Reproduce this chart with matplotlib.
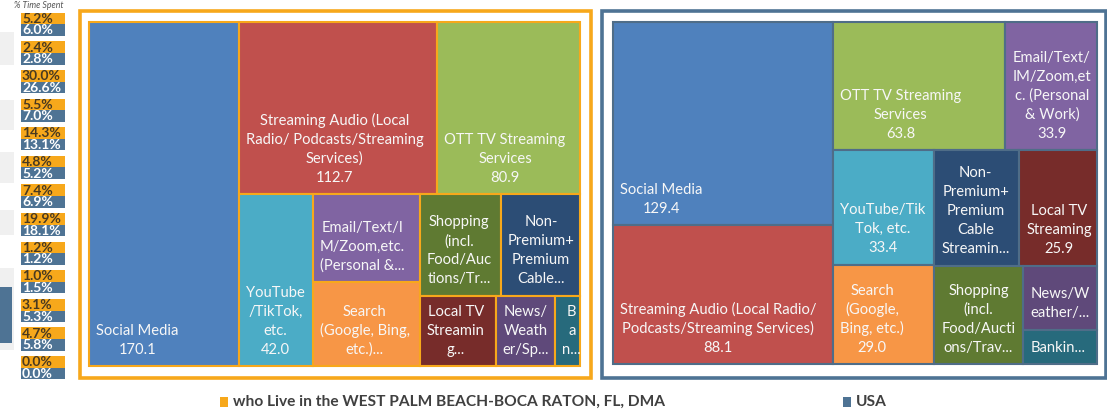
import re
import matplotlib
matplotlib.use('Agg')
import matplotlib.pyplot as plt
from matplotlib.patches import Rectangle
from matplotlib.font_manager import FontProperties

# activities (same order in both treemaps, colours follow the category)
categories = [
    'Social Media',
    'Streaming Audio (Local Radio/ Podcasts/Streaming Services)',
    'OTT TV Streaming Services',
    'YouTube/TikTok, etc.',
    'Email/Text/IM/Zoom,etc. (Personal & Work)',
    'Search (Google, Bing, etc.)',
    'Shopping (incl. Food/Auctions/Travel)',
    'Non-Premium+Premium Cable Streaming Services',
    'Local TV Streaming',
    'News/Weather/Sports',
    'Banking/Finance',
]
dma_minutes = [170.1, 112.7, 80.9, 42.0, 31.2, 29.5, 27.2, 26.6, 17.6, 13.8, 5.7]
usa_minutes = [129.4, 88.1, 63.8, 33.4, 33.9, 29.0, 25.3, 28.2, 25.9, 13.6, 7.3]
cat_colors = ['#4F81BD', '#C0504D', '#9BBB59', '#4BACC6', '#8064A2', '#F79646',
              '#5F7A32', '#2C4D75', '#772C2A', '#5F497A', '#276A7C']

# "% Time Spent" side column
dma_pct = [5.2, 2.4, 30.0, 5.5, 14.3, 4.8, 7.4, 19.9, 1.2, 1.0, 3.1, 4.7, 0.0]
usa_pct = [6.0, 2.8, 26.6, 7.0, 13.1, 5.2, 6.9, 18.1, 1.2, 1.5, 5.3, 5.8, 0.0]

legend_labels = ['who Live in the WEST PALM BEACH-BOCA RATON, FL, DMA', 'USA']

ORANGE = '#F7A81B'
STEEL = '#4E7394'
EDGE_USA = '#4F6D88'

fig = plt.figure(figsize=(11.07, 4.11), dpi=100)
ax = fig.add_axes([0, 0, 1, 1])
ax.set_xlim(0, 1107)
ax.set_ylim(411, 0)
ax.axis('off')
renderer = fig.canvas.get_renderer()

label_font = FontProperties(family='Lato', size=10.6)
LINE_H = 19.0
MARGIN = 7.0
PAD = 6.0


def text_w(s, prop=label_font):
    w, _, _ = renderer.get_text_width_height_descent(s, prop, ismath=False)
    return w


def worst(row, side, stretch):
    s = sum(row)
    t = s / side * stretch
    return max(max(t / (a / s * side), (a / s * side) / t) for a in row)


def squarify(values, x, y, w, h, stretch=1.24):
    # squarified layout; stretch mimics the way Excel judges the strips
    scale = w * h / sum(values)
    areas = [v * scale for v in values]
    rects = []
    i = 0
    while i < len(areas):
        side = min(w, h)
        row = [areas[i]]
        j = i + 1
        while j < len(areas) and worst(row + [areas[j]], side, stretch) <= worst(row, side, stretch):
            row.append(areas[j])
            j += 1
        thick = sum(row) / side
        if w >= h:
            yy = y
            for a in row:
                rects.append((x, yy, thick, a / thick))
                yy += a / thick
            x += thick
            w -= thick
        else:
            xx = x
            for a in row:
                rects.append((xx, y, a / thick, thick))
                xx += a / thick
            y += thick
            h -= thick
        i = j
    return rects


def wrap(name, maxw):
    tokens = [t for t in re.findall(r'[^ \-]*[ \-]?', name) if t]
    lines, cur = [], ''
    for tok in tokens:
        if text_w((cur + tok).rstrip()) <= maxw:
            cur += tok
            continue
        if cur.strip():
            lines.append(cur.rstrip())
        cur = ''
        while text_w(tok.rstrip()) > maxw and len(tok.rstrip()) > 1:
            k = 1
            while k < len(tok) and text_w(tok[:k + 1]) <= maxw:
                k += 1
            lines.append(tok[:k])
            tok = tok[k:]
        cur = tok
    if cur.strip():
        lines.append(cur.rstrip())
    return lines


def draw_label(x, y, w, h, name, value):
    maxw = w - 2 * PAD
    lines = wrap(name, maxw) + [f'{value:.1f}']
    nmax = max(1, int((h - 12.8) / LINE_H))
    if len(lines) > nmax:
        lines = lines[:nmax]
        base = lines[-1]
        while text_w(base + '...') > maxw and len(base) > 1:
            base = base[:-1]
        lines[-1] = base + '...'
    block_w = max(text_w(l) for l in lines)
    cx = x + PAD + 1 + block_w / 2
    bottom = y + h - MARGIN
    n = len(lines)
    for k, line in enumerate(lines):
        ly = bottom - (n - k - 0.5) * LINE_H
        ax.text(cx, ly, line, ha='center', va='center', color='#F7F7F7',
                fontproperties=label_font)


def draw_treemap(values, region, edge):
    order = sorted(range(len(values)), key=lambda i: -values[i])
    rects = squarify([values[i] for i in order], *region)
    for idx, (x, y, w, h) in zip(order, rects):
        ax.add_patch(Rectangle((x, y), w, h, facecolor=cat_colors[idx],
                               edgecolor=edge, linewidth=1.5))
        draw_label(x, y, w, h, categories[idx], values[idx])


# frames
ax.add_patch(Rectangle((79.5, 11.5), 511, 366, fill=False, edgecolor=ORANGE, linewidth=2.6))
ax.add_patch(Rectangle((601.5, 11.5), 504, 366, fill=False, edgecolor=STEEL, linewidth=2.6))

draw_treemap(dma_minutes, (89, 22, 491, 344), ORANGE)
draw_treemap(usa_minutes, (613, 22, 484, 342), EDGE_USA)

# cropped bits of a neighbouring panel at the far left
for (by, bh) in [(32, 33), (100, 30), (152, 31), (210, 25), (268, 82)]:
    ax.add_patch(Rectangle((0, by), 14, bh, facecolor='#F0F0F0', edgecolor='none'))
ax.add_patch(Rectangle((0, 287), 12, 56, facecolor='#4E7394', edgecolor='none'))

# % Time Spent column
ax.text(14, 5, '% Time Spent', fontsize=6.3, style='italic', color='#555555',
        va='center', ha='left', family='Lato')
pct_font = FontProperties(family='Lato', weight='bold', size=10)
for i, (d, u) in enumerate(zip(dma_pct, usa_pct)):
    top = 12.7 + i * 28.6
    ax.add_patch(Rectangle((21, top), 44, 11.8, facecolor=ORANGE, edgecolor='none'))
    ax.add_patch(Rectangle((21, top + 11.8), 44, 11.5, facecolor=STEEL, edgecolor='none'))
    ax.text(22, top + 6.2, f'{d:.1f}%', color='#4A3A20', fontproperties=pct_font,
            va='center', ha='left')
    ax.text(22, top + 17.8, f'{u:.1f}%', color='white', fontproperties=pct_font,
            va='center', ha='left')

# legend
leg_font = FontProperties(family='Lato', weight='bold', size=11.2)
for x0, lab, col in [(220, legend_labels[0], ORANGE), (843, legend_labels[1], STEEL)]:
    ax.add_patch(Rectangle((x0, 397), 8, 10, facecolor=col, edgecolor='none'))
    ax.text(x0 + 13, 402, lab, color='#404040', fontproperties=leg_font,
            va='center', ha='left')

fig.savefig('out.png', dpi=100)
